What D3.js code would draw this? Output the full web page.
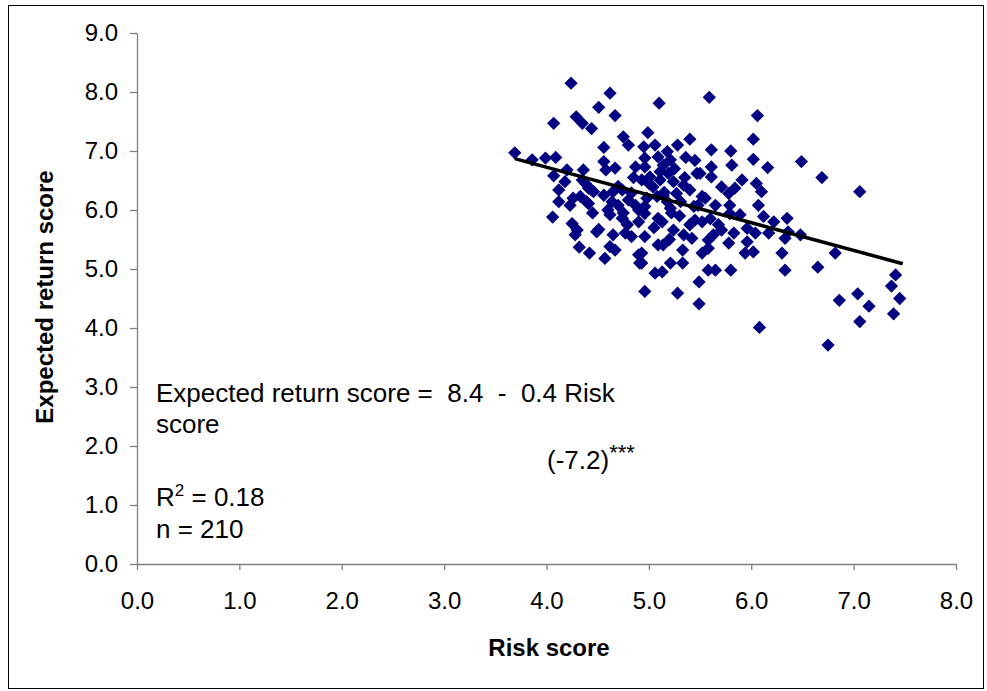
<!DOCTYPE html>
<html>
<head>
<meta charset="utf-8">
<script src="https://cdn.jsdelivr.net/npm/d3@7"></script>
<style>
  body { margin: 0; background: #fff; }
  svg text { font-family: "Liberation Sans", Arial, sans-serif; fill: #000; }
</style>
</head>
<body>
<div id="chart"></div>
<script>
// risk score (x) and expected return score (y), one entry per respondent
var riskScore = [
    3.69, 3.86, 3.99, 4.09, 4.07, 4.24, 4.29, 4.07, 4.20, 4.18, 4.12, 4.26, 4.12, 4.06, 4.25, 4.28, 4.32,
    4.23, 4.33, 4.38, 4.44, 4.41, 4.30,
    4.35, 4.44, 4.62, 4.51, 4.67, 4.75, 4.80, 4.56, 4.56, 4.58, 4.67, 4.87, 4.36, 4.35, 4.41, 4.46,
    4.56, 4.65, 4.64, 4.74, 4.83, 4.70, 4.39, 4.80, 4.87, 4.62, 4.51, 4.74, 4.79, 4.77, 4.83, 4.65,
    4.62, 4.67, 4.42, 4.57, 4.90, 4.91, 4.49, 4.90,
    5.10, 4.99, 5.40, 4.95, 5.06, 4.96, 5.09, 4.96, 5.28, 5.18, 5.21, 5.14, 5.36, 5.45, 5.01, 5.11,
    5.04, 5.24, 5.34, 5.40, 5.27, 4.98, 5.08, 5.19, 5.11, 4.93, 5.14, 5.18, 5.21, 5.31, 5.44, 4.96,
    4.96, 5.22, 5.13, 5.45, 5.40, 5.09, 5.24, 5.34, 5.42, 4.96, 5.09, 5.14, 5.33, 4.93, 4.93, 5.21,
    5.33, 5.06, 5.13, 5.49, 4.96, 5.28, 5.49, 5.47, 5.48,
    5.59, 6.06, 6.02, 5.61, 5.80, 6.02, 6.16, 5.81, 5.61, 5.50, 5.61, 5.91, 5.71, 5.78, 5.84, 6.05,
    6.10, 5.52, 5.65, 5.79, 6.07, 5.52, 5.68, 5.71, 5.79, 5.89, 5.63, 5.83, 5.96, 6.04, 6.12, 6.22,
    6.17, 5.58, 5.78, 5.96, 5.58, 5.52, 5.94, 6.02, 5.58, 5.65, 5.80, 6.08,
    6.49, 6.69, 7.06, 6.35, 6.33, 6.36, 6.48, 6.30, 6.82, 6.33, 6.65, 7.41, 7.37, 7.45, 7.04, 6.86,
    7.15, 7.39, 7.06, 6.75,
    4.70, 4.85, 5.00, 5.15, 5.25, 5.35, 4.60, 4.75, 5.05, 5.30, 5.55, 4.45, 4.90, 5.20, 5.60
];
var returnScore = [
    6.97, 6.85, 6.88, 6.89, 7.47, 8.15, 7.58, 6.58, 6.68, 6.48, 6.34, 6.20, 6.14, 5.88, 5.77, 5.58, 5.37,
    6.08, 6.23, 6.45, 6.34, 6.11, 5.66,
    7.47, 7.38, 7.98, 7.74, 7.60, 7.24, 7.10, 7.06, 6.82, 6.68, 6.71, 6.73, 6.68, 6.51, 6.37, 6.31,
    6.25, 6.31, 6.14, 6.34, 6.29, 6.08, 6.14, 6.17, 6.08, 5.92, 5.67, 5.86, 5.75, 5.61, 5.55, 5.58,
    5.38, 5.32, 5.27, 5.18, 5.24, 5.10, 5.63, 6.00,
    7.81, 7.31, 7.20, 7.07, 7.10, 6.88, 6.90, 6.73, 7.10, 6.99, 6.85, 6.76, 6.89, 6.84, 6.56, 6.51,
    6.39, 6.48, 6.42, 6.34, 6.28, 6.20, 6.23, 6.62, 6.65, 6.51, 6.25, 6.14, 6.03, 6.14, 6.06, 6.06,
    5.94, 5.95, 5.80, 5.83, 5.75, 5.86, 5.66, 5.58, 5.52, 5.55, 5.41, 5.41, 5.32, 5.27, 5.10, 5.10,
    5.10, 4.93, 4.95, 4.78, 4.62, 4.59, 4.41, 6.62, 6.08,
    7.91, 7.60, 7.20, 7.02, 7.00, 6.86, 6.72, 6.76, 6.73, 6.62, 6.56, 6.51, 6.39, 6.28, 6.37, 6.45,
    6.31, 6.23, 6.08, 6.08, 6.08, 5.80, 5.75, 5.66, 5.94, 5.92, 5.58, 5.61, 5.69, 5.61, 5.89, 5.80,
    5.61, 5.49, 5.44, 5.46, 5.35, 5.27, 5.27, 5.29, 4.98, 4.98, 4.98, 4.01,
    6.82, 6.55, 6.31, 5.86, 5.52, 5.63, 5.58, 5.27, 5.27, 4.98, 5.03, 4.90, 4.71, 4.50, 4.58, 4.47,
    4.37, 4.24, 4.11, 3.71,
    6.40, 6.55, 6.45, 6.30, 6.70, 6.55, 6.00, 5.95, 5.70, 5.90, 6.20, 5.95, 5.80, 5.50, 5.85
];

// fitted line as drawn in the original
var trendX = [3.69, 7.48];
var trendY = [6.87, 5.09];

var xTicks = [0, 1, 2, 3, 4, 5, 6, 7, 8];
var yTicks = [0, 1, 2, 3, 4, 5, 6, 7, 8, 9];

var width = 987, height = 691;
var margin = { top: 33, left: 137, right: 31, bottom: 127 };
var innerW = width - margin.left - margin.right,
    innerH = height - margin.top - margin.bottom;

var svg = d3.select('#chart').append('svg')
    .attr('width', width)
    .attr('height', height);

// outer frame
svg.append('rect')
    .attr('x', 8.5).attr('y', 5.5)
    .attr('width', 975).attr('height', 683)
    .attr('fill', 'none')
    .attr('stroke', '#000')
    .attr('stroke-width', 1);

var g = svg.append('g')
    .attr('transform', 'translate(' + margin.left + ',' + margin.top + ')');

var xScale = d3.scaleLinear().domain([0, 8]).range([0, innerW]);
var yScale = d3.scaleLinear().domain([0, 9]).range([innerH, 0]);

var xAxis = d3.axisBottom(xScale)
    .tickValues(xTicks)
    .tickSizeInner(6).tickSizeOuter(0)
    .tickPadding(22)
    .tickFormat(d3.format('.1f'));
var yAxis = d3.axisLeft(yScale)
    .tickValues(yTicks)
    .tickSizeInner(7).tickSizeOuter(0)
    .tickPadding(12)
    .tickFormat(d3.format('.1f'));

var xAxisG = g.append('g')
    .attr('transform', 'translate(0,' + innerH + ')')
    .call(xAxis);
var yAxisG = g.append('g').call(yAxis);

[xAxisG, yAxisG].forEach(function (ax) {
    ax.select('.domain').attr('stroke', '#808080').attr('stroke-width', 1.3);
    ax.selectAll('.tick line').attr('stroke', '#808080').attr('stroke-width', 1.3);
    ax.selectAll('.tick text')
        .attr('font-size', 24)
        .attr('font-family', '"Liberation Sans", Arial, sans-serif')
        .attr('fill', '#000');
});
xAxisG.selectAll('.tick text').attr('dy', '0.71em');

// scatter points
var points = riskScore.map(function (x, i) {
    return { x: x, y: returnScore[i] };
});
var diamond = d3.symbol().type(d3.symbolSquare).size(88);
g.append('g').selectAll('path')
    .data(points)
    .enter()
    .append('path')
    .attr('d', diamond)
    .attr('transform', function (d) {
        return 'translate(' + xScale(d.x) + ',' + yScale(d.y) + ') rotate(45)';
    })
    .attr('fill', '#000080');

// trend line
var line = d3.line()
    .x(function (d) { return xScale(d[0]); })
    .y(function (d) { return yScale(d[1]); });
g.append('path')
    .datum(trendX.map(function (x, i) { return [x, trendY[i]]; }))
    .attr('d', line)
    .attr('fill', 'none')
    .attr('stroke', '#000')
    .attr('stroke-width', 3.5);

// axis titles
svg.append('text')
    .attr('x', 549).attr('y', 656)
    .attr('text-anchor', 'middle')
    .attr('font-size', 24).attr('font-weight', 'bold')
    .text('Risk score');
svg.append('text')
    .attr('transform', 'translate(53,297) rotate(-90)')
    .attr('text-anchor', 'middle')
    .attr('font-size', 24).attr('font-weight', 'bold')
    .text('Expected return score');

// regression annotation
var note = svg.append('g')
    .attr('font-size', 26);
function noteText(x, y) {
    return note.append('text')
        .attr('x', x).attr('y', y)
        .attr('xml:space', 'preserve')
        .style('white-space', 'pre');
}
noteText(156, 402).text('Expected return score =  8.4  -  0.4 Risk');
noteText(156, 433).text('score');
var tStat = noteText(547, 469);
tStat.append('tspan').text('(-7.2)');
tStat.append('tspan').attr('dy', -9).attr('font-size', 22).text('***');
var r2 = noteText(156, 506);
r2.append('tspan').text('R');
r2.append('tspan').attr('dy', -10).attr('font-size', 17).text('2');
r2.append('tspan').attr('dy', 10).text(' = 0.18');
noteText(156, 538).text('n = 210');
</script>
</body>
</html>
